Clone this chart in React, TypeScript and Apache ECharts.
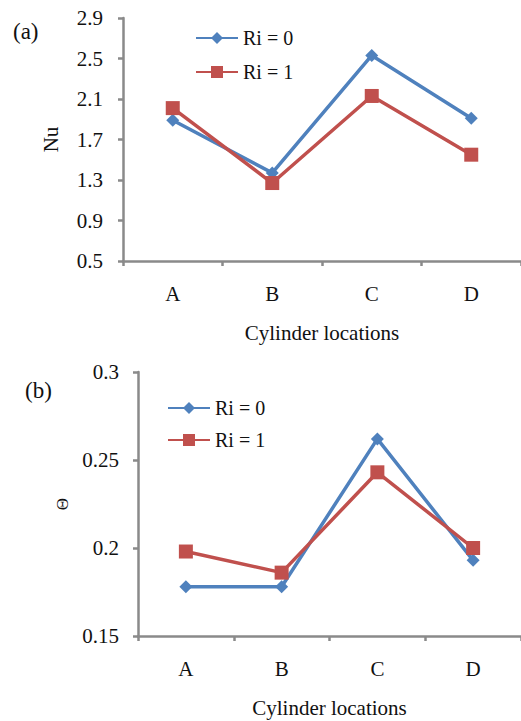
import React, { useEffect, useRef } from "react";
import * as echarts from "echarts";

const categories = ["A", "B", "C", "D"];
const seriesNames = ["Ri = 0", "Ri = 1"];
const nuRi0 = [1.89, 1.37, 2.53, 1.91];
const nuRi1 = [2.01, 1.27, 2.13, 1.55];
const thetaRi0 = [0.178, 0.178, 0.262, 0.193];
const thetaRi1 = [0.198, 0.186, 0.243, 0.2];

const BLUE = "#4F81BD";
const RED = "#C0504D";
const AXIS = "#8a8a8a";
const FONT = "Liberation Serif";

export default function App() {
  const ref = useRef<HTMLDivElement>(null);
  useEffect(() => {
    if (!ref.current) return;
    const chart = echarts.init(ref.current, null, { renderer: "svg" });
    const axisLine = { lineStyle: { color: AXIS, width: 2.5 } };
    const axisTick = { show: true, length: 5, lineStyle: { color: AXIS, width: 2.5 } };
    const catAxis = (gridIndex: number) => ({
      type: "category",
      gridIndex,
      data: categories,
      boundaryGap: true,
      axisLine,
      axisTick: { ...axisTick, alignWithLabel: false },
      axisLabel: { color: "#111", fontFamily: FONT, fontSize: 21, margin: 22 },
      name: "Cylinder locations",
      nameLocation: "middle",
      nameGap: 61,
      nameTextStyle: { color: "#111", fontFamily: FONT, fontSize: 21 },
    });
    const mkSeries = (name: string, data: number[], idx: number, blue: boolean) => ({
      type: "line",
      name,
      data,
      xAxisIndex: idx,
      yAxisIndex: idx,
      symbol: blue ? "diamond" : "rect",
      symbolSize: blue ? 13 : 14,
      showAllSymbol: true,
      lineStyle: { color: blue ? BLUE : RED, width: 3.5 },
      itemStyle: { color: blue ? BLUE : RED },
      z: blue ? 2 : 3,
    });
    const legendText = { color: "#111", fontFamily: FONT, fontSize: 20 };
    chart.setOption({
      animation: false,
      backgroundColor: "#ffffff",
      grid: [
        { left: 123, top: 18, width: 430, height: 243 },
        { left: 138, top: 372, width: 428, height: 264 },
      ],
      legend: [
        {
          data: seriesNames,
          orient: "vertical",
          left: 190,
          top: 23,
          itemWidth: 42,
          itemHeight: 15,
          itemGap: 14,
          textStyle: legendText,
          selectedMode: false,
        },
        {
          data: seriesNames,
          orient: "vertical",
          left: 162,
          top: 393,
          itemWidth: 42,
          itemHeight: 15,
          itemGap: 12,
          textStyle: legendText,
          selectedMode: false,
        },
      ],
      xAxis: [catAxis(0), catAxis(1)],
      yAxis: [
        {
          type: "value",
          gridIndex: 0,
          min: 0.5,
          max: 2.9,
          interval: 0.4,
          axisLine: { show: true, ...axisLine },
          axisTick,
          splitLine: { show: false },
          axisLabel: {
            color: "#111",
            fontFamily: FONT,
            fontSize: 21,
            margin: 20,
            formatter: (v: number) => v.toFixed(1),
          },
          name: "Nu",
          nameLocation: "middle",
          nameGap: 62,
          nameTextStyle: { color: "#111", fontFamily: FONT, fontSize: 21 },
        },
        {
          type: "value",
          gridIndex: 1,
          min: 0.15,
          max: 0.3,
          interval: 0.05,
          axisLine: { show: true, ...axisLine },
          axisTick,
          splitLine: { show: false },
          axisLabel: {
            color: "#111",
            fontFamily: FONT,
            fontSize: 21,
            margin: 19,
            formatter: (v: number) => String(+v.toFixed(2)),
          },
          name: "Θ",
          nameLocation: "middle",
          nameGap: 64,
          nameTextStyle: { color: "#111", fontFamily: FONT, fontSize: 17 },
        },
      ],
      graphic: [
        {
          type: "text",
          left: 13,
          top: 20,
          style: { text: "(a)", font: `23px ${FONT}`, fill: "#111" },
        },
        {
          type: "text",
          left: 25,
          top: 379,
          style: { text: "(b)", font: `23px ${FONT}`, fill: "#111" },
        },
      ],
      series: [
        mkSeries(seriesNames[0], nuRi0, 0, true),
        mkSeries(seriesNames[1], nuRi1, 0, false),
        mkSeries(seriesNames[0], thetaRi0, 1, true),
        mkSeries(seriesNames[1], thetaRi1, 1, false),
      ],
    });
    return () => chart.dispose();
  }, []);
  return (
    <div
      ref={ref}
      style={{ position: "fixed", left: 0, top: 0, width: 521, height: 721 }}
    />
  );
}
